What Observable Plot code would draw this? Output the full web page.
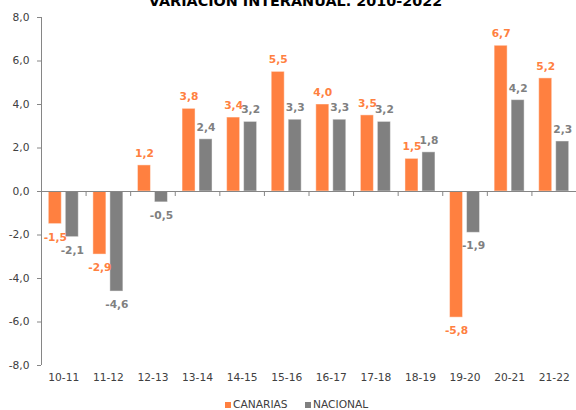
<!DOCTYPE html>
<html><head><meta charset="utf-8">
<script src="https://cdn.jsdelivr.net/npm/d3@7"></script>
<script src="https://cdn.jsdelivr.net/npm/@observablehq/plot@0.6"></script>
<style>
body{margin:0;background:#fff;}
#wrap{position:relative;width:576px;height:410px;overflow:hidden;font-family:"DejaVu Sans",Verdana,sans-serif;background:#fff;}
#wrap svg{position:absolute;left:0;top:0;overflow:hidden;}
#title{position:absolute;left:295.5px;top:-7.5px;transform:translateX(-50%);white-space:nowrap;font-weight:bold;font-size:14.4px;line-height:16px;color:#000;}
.leg{position:absolute;top:399px;font-size:10.67px;line-height:12px;color:#404040;white-space:nowrap;}
.sw{display:inline-block;width:6px;height:6px;margin-right:2px;}
</style></head><body><div id="wrap"></div>
<script>
const periods = ["10-11","11-12","12-13","13-14","14-15","15-16","16-17","17-18","18-19","19-20","20-21","21-22"];
const canarias = [-1.5,-2.9,1.2,3.8,3.4,5.5,4.0,3.5,1.5,-5.8,6.7,5.2];
const nacional = [-2.1,-4.6,-0.5,2.4,3.2,3.3,3.3,3.2,1.8,-1.9,4.2,2.3];
const seriesNames = ["CANARIAS","NACIONAL"];
const seriesColors = ["#FF8040","#808080"];
const yTicks = [-8,-6,-4,-2,0,2,4,6,8];
const titleText = "VARIACIÓN INTERANUAL. 2010-2022";

const W = 576, H = 410, mL = 41, mR = 0, mT = 17, mB = 45;
const bw = (W - mL - mR) / periods.length;
const pad = 7.3, barW = 13;
const fmt = d => d.toFixed(1).replace(".", ",");

const rows = [];
periods.forEach((p, i) => {
  rows.push({period: p, series: seriesNames[0], value: canarias[i]});
  rows.push({period: p, series: seriesNames[1], value: nacional[i]});
});

const axisGray = "#868686";
const marks = [];
seriesNames.forEach((s, k) => {
  const data = rows.filter(r => r.series === s);
  const left = k === 0 ? pad : bw - pad - barW;
  const right = bw - left - barW;
  marks.push(Plot.barY(data, {x: "period", y: "value", fill: seriesColors[k], insetLeft: left, insetRight: right, stroke: "#ffffff", strokeOpacity: 0.45, strokeWidth: 1}));
});
marks.push(Plot.ruleY([0], {stroke: axisGray, strokeWidth: 1}));
marks.push(Plot.ruleX(periods, {x: d => d, dx: -bw / 2, y1: () => 0, y2: () => 0, insetBottom: -5, stroke: axisGray}));
marks.push(Plot.ruleX([periods[0]], {x: d => d, dx: -bw / 2, y1: () => -8, y2: () => 8, stroke: axisGray}));
seriesNames.forEach((s, k) => {
  const data = rows.filter(r => r.series === s);
  const centerOff = (k === 0 ? pad + barW / 2 : bw - pad - barW / 2) - bw / 2;
  marks.push(Plot.text(data.filter(d => d.value >= 0), {x: "period", y: "value", text: d => fmt(d.value), dx: centerOff, dy: -12, fill: seriesColors[k], fontWeight: "bold", fontSize: 10.67}));
  marks.push(Plot.text(data.filter(d => d.value < 0), {x: "period", y: "value", text: d => fmt(d.value), dx: centerOff, dy: 13, fill: seriesColors[k], fontWeight: "bold", fontSize: 10.67}));
});
marks.push(Plot.axisY({ticks: yTicks, tickFormat: fmt, tickSize: 4, tickPadding: 8, stroke: axisGray, fill: "#404040", fontSize: 10.67}));
marks.push(Plot.axisX({tickSize: 0, tickPadding: 8, fill: "#404040", fontSize: 10.67}));

const chart = Plot.plot({
  width: W, height: H,
  marginLeft: mL, marginRight: mR, marginTop: mT, marginBottom: mB,
  style: {fontFamily: "DejaVu Sans, Verdana, sans-serif", fontSize: "10.67px", background: "#fff", color: "#404040"},
  x: {domain: periods, padding: 0, round: false, label: null},
  y: {domain: [-8, 8], label: null},
  marks
});
const wrap = document.getElementById("wrap");
wrap.appendChild(chart);
const t = document.createElement("div");
t.id = "title"; t.textContent = titleText;
wrap.appendChild(t);
const legLeft = [225, 305];
seriesNames.forEach((s, k) => {
  const d = document.createElement("div");
  d.className = "leg";
  d.style.left = legLeft[k] + "px";
  const sw = document.createElement("span");
  sw.className = "sw"; sw.style.background = seriesColors[k];
  d.appendChild(sw);
  d.appendChild(document.createTextNode(s));
  wrap.appendChild(d);
});
</script></body></html>
